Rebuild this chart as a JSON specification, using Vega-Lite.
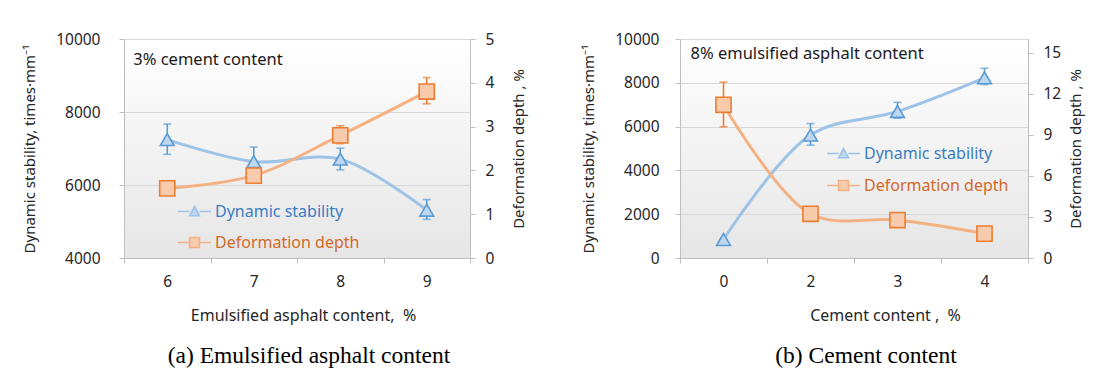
{
  "$schema": "https://vega.github.io/schema/vega-lite/v6.json",
  "padding": {"left": 22, "top": 31, "right": 4, "bottom": 2},
  "background": "white",
  "spacing": 53,
  "datasets": {
    "a": [
      {"x": "6", "ds": 7245, "ds_lo": 6840, "ds_hi": 7670, "dd": 1.59, "dd_lo": 1.56, "dd_hi": 1.62},
      {"x": "7", "ds": 6640, "ds_lo": 6350, "ds_hi": 7040, "dd": 1.88, "dd_lo": 1.85, "dd_hi": 1.91},
      {"x": "8", "ds": 6710, "ds_lo": 6415, "ds_hi": 7010, "dd": 2.8, "dd_lo": 2.61, "dd_hi": 3.02},
      {"x": "9", "ds": 5310, "ds_lo": 5060, "ds_hi": 5600, "dd": 3.8, "dd_lo": 3.52, "dd_hi": 4.12}
    ],
    "b": [
      {"x": "0", "ds": 846, "ds_lo": 830, "ds_hi": 860, "dd": 11.19, "dd_lo": 9.58, "dd_hi": 12.85},
      {"x": "2", "ds": 5615, "ds_lo": 5154, "ds_hi": 6138, "dd": 3.23, "dd_lo": 3.2, "dd_hi": 3.26},
      {"x": "3", "ds": 6692, "ds_lo": 6385, "ds_hi": 7108, "dd": 2.77, "dd_lo": 2.74, "dd_hi": 2.8},
      {"x": "4", "ds": 8230, "ds_lo": 7923, "ds_hi": 8662, "dd": 1.78, "dd_lo": 1.75, "dd_hi": 1.81}
    ],
    "notea": [{"note": "3% cement content"}],
    "noteb": [{"note": "8% emulsified asphalt content"}]
  },
  "hconcat": [
    {
      "width": 346,
      "height": 219,
      "title": {"text": "(a) Emulsified asphalt content", "orient": "bottom", "frame": "group", "dx": 12, "font": "Liberation Serif", "fontSize": 23.5, "fontWeight": "normal", "color": "#000000", "offset": 20},
      "data": {"name": "a"},
      "encoding": {
        "x": {"field": "x", "type": "ordinal", "scale": {"type": "band", "paddingInner": 0, "paddingOuter": 0},
              "axis": {"title": "Emulsified asphalt content,\u00a0 %", "titleX": 179, "labelAngle": 0, "tickBand": "extent", "labelPadding": 11, "titlePadding": 18, "titleFontSize": 16}}
      },
      "layer": [
        {
          "layer": [
            {
              "mark": {"type": "errorbar", "ticks": {"size": 8}, "color": "#5B9BD5", "thickness": 1.6},
              "encoding": {
                "y": {"field": "ds_lo", "type": "quantitative", "title": "Dynamic stability, times·mm⁻¹", "scale": {"domain": [4000, 10000]}},
                "y2": {"field": "ds_hi"}
              }
            },
            {
              "mark": {"type": "line", "interpolate": "catmull-rom", "strokeWidth": 3},
              "encoding": {
                "y": {"field": "ds", "type": "quantitative", "title": "Dynamic stability, times·mm⁻¹", "scale": {"domain": [4000, 10000]},
                      "axis": {"values": [4000, 6000, 8000, 10000], "format": "d", "grid": true, "labelPadding": 19, "titlePadding": 18}},
                "color": {"datum": "Dynamic stability", "type": "nominal", "scale": {"range": ["#9DC3E6"]},
                  "legend": {"orient": "none", "legendX": 53, "legendY": 155, "title": null,
                    "symbolType": "M-1,0H-0.3M0.3,0H1M-0.3,0.26L0,-0.3L0.3,0.26Z", "symbolSize": 1089,
                    "labelColor": "#3B7DC4", "labelFontSize": 16, "labelOffset": 3, "padding": 0,
                    "encode": {"symbols": {"update": {"fill": {"value": "#BDD7EE"}, "stroke": {"value": "#5B9BD5"}, "strokeWidth": {"value": 1.6}}}}}}
              }
            },
            {
              "mark": {"type": "point", "shape": "triangle-up", "filled": true, "fill": "#BDD7EE", "stroke": "#5B9BD5", "strokeWidth": 1.6, "size": 190, "opacity": 1},
              "encoding": {"y": {"field": "ds", "type": "quantitative", "title": "Dynamic stability, times·mm⁻¹"}}
            },
            {
              "data": {"name": "notea"},
              "mark": {"type": "text", "align": "left", "baseline": "middle", "dx": -34, "dy": 21, "fontSize": 16.5, "font": "Noto Sans", "color": "#1a1a1a"},
              "encoding": {"x": {"datum": "6", "type": "ordinal"}, "y": {"datum": 10000, "type": "quantitative"}, "text": {"field": "note"}}
            }
          ]
        },
        {
          "layer": [
            {
              "mark": {"type": "errorbar", "ticks": {"size": 8}, "color": "#ED7D31", "thickness": 1.6},
              "encoding": {
                "y": {"field": "dd_lo", "type": "quantitative", "title": "Deformation depth , %", "scale": {"domain": [0, 5]}},
                "y2": {"field": "dd_hi"}
              }
            },
            {
              "mark": {"type": "line", "interpolate": "catmull-rom", "strokeWidth": 3},
              "encoding": {
                "y": {"field": "dd", "type": "quantitative", "title": "Deformation depth , %", "scale": {"domain": [0, 5]},
                      "axis": {"orient": "right", "values": [0, 1, 2, 3, 4, 5], "grid": false, "titleAngle": 270, "titleBaseline": "top", "labelPadding": 10, "titlePadding": 18}},
                "color": {"datum": "Deformation depth", "type": "nominal", "scale": {"range": ["#F4B183"]},
                  "legend": {"orient": "none", "legendX": 53, "legendY": 186, "title": null,
                    "symbolType": "M-1,0H-0.3M0.3,0H1M-0.3,-0.3H0.3V0.3H-0.3Z", "symbolSize": 1089,
                    "labelColor": "#D4692A", "labelFontSize": 16, "labelOffset": 3, "padding": 0,
                    "encode": {"symbols": {"update": {"fill": {"value": "#F8CBAD"}, "stroke": {"value": "#ED7D31"}, "strokeWidth": {"value": 1.6}}}}}}
              }
            },
            {
              "mark": {"type": "point", "shape": "square", "filled": true, "fill": "#F8CBAD", "stroke": "#ED7D31", "strokeWidth": 1.6, "size": 230, "opacity": 1},
              "encoding": {"y": {"field": "dd", "type": "quantitative", "title": "Deformation depth , %"}}
            }
          ]
        }
      ],
      "resolve": {"scale": {"y": "independent", "color": "independent"}}
    },
    {
      "width": 348,
      "height": 219,
      "title": {"text": "(b) Cement content", "orient": "bottom", "frame": "group", "dx": 12, "font": "Liberation Serif", "fontSize": 23.5, "fontWeight": "normal", "color": "#000000", "offset": 20},
      "data": {"name": "b"},
      "encoding": {
        "x": {"field": "x", "type": "ordinal", "scale": {"type": "band", "paddingInner": 0, "paddingOuter": 0},
              "axis": {"title": "Cement content ,\u00a0 %", "titleX": 205, "labelAngle": 0, "tickBand": "extent", "labelPadding": 11, "titlePadding": 18, "titleFontSize": 16}}
      },
      "layer": [
        {
          "layer": [
            {
              "mark": {"type": "errorbar", "ticks": {"size": 8}, "color": "#5B9BD5", "thickness": 1.6},
              "encoding": {
                "y": {"field": "ds_lo", "type": "quantitative", "title": "Dynamic stability, times·mm⁻¹", "scale": {"domain": [0, 10000]}},
                "y2": {"field": "ds_hi"}
              }
            },
            {
              "mark": {"type": "line", "interpolate": "catmull-rom", "strokeWidth": 3},
              "encoding": {
                "y": {"field": "ds", "type": "quantitative", "title": "Dynamic stability, times·mm⁻¹", "scale": {"domain": [0, 10000]},
                      "axis": {"values": [0, 2000, 4000, 6000, 8000, 10000], "format": "d", "grid": true, "labelPadding": 16, "titlePadding": 18}},
                "color": {"datum": "Dynamic stability", "type": "nominal", "scale": {"range": ["#9DC3E6"]},
                  "legend": {"orient": "none", "legendX": 146, "legendY": 97, "title": null,
                    "symbolType": "M-1,0H-0.3M0.3,0H1M-0.3,0.26L0,-0.3L0.3,0.26Z", "symbolSize": 1089,
                    "labelColor": "#3B7DC4", "labelFontSize": 16, "labelOffset": 3, "padding": 0,
                    "encode": {"symbols": {"update": {"fill": {"value": "#BDD7EE"}, "stroke": {"value": "#5B9BD5"}, "strokeWidth": {"value": 1.6}}}}}}
              }
            },
            {
              "mark": {"type": "point", "shape": "triangle-up", "filled": true, "fill": "#BDD7EE", "stroke": "#5B9BD5", "strokeWidth": 1.6, "size": 190, "opacity": 1},
              "encoding": {"y": {"field": "ds", "type": "quantitative", "title": "Dynamic stability, times·mm⁻¹"}}
            },
            {
              "data": {"name": "noteb"},
              "mark": {"type": "text", "align": "left", "baseline": "middle", "dx": -33, "dy": 15, "fontSize": 16.5, "font": "Noto Sans", "color": "#1a1a1a"},
              "encoding": {"x": {"datum": "0", "type": "ordinal"}, "y": {"datum": 10000, "type": "quantitative"}, "text": {"field": "note"}}
            }
          ]
        },
        {
          "layer": [
            {
              "mark": {"type": "errorbar", "ticks": {"size": 8}, "color": "#ED7D31", "thickness": 1.6},
              "encoding": {
                "y": {"field": "dd_lo", "type": "quantitative", "title": "Deformation depth , %", "scale": {"domain": [0, 15]}},
                "y2": {"field": "dd_hi"}
              }
            },
            {
              "mark": {"type": "line", "interpolate": "catmull-rom", "strokeWidth": 3},
              "encoding": {
                "y": {"field": "dd", "type": "quantitative", "title": "Deformation depth , %", "scale": {"domain": [0, 15]},
                      "axis": {"orient": "right", "values": [0, 3, 6, 9, 12, 15], "grid": false, "titleAngle": 270, "titleBaseline": "top", "labelPadding": 10, "titlePadding": 8}},
                "color": {"datum": "Deformation depth", "type": "nominal", "scale": {"range": ["#F4B183"]},
                  "legend": {"orient": "none", "legendX": 146, "legendY": 129, "title": null,
                    "symbolType": "M-1,0H-0.3M0.3,0H1M-0.3,-0.3H0.3V0.3H-0.3Z", "symbolSize": 1089,
                    "labelColor": "#D4692A", "labelFontSize": 16, "labelOffset": 3, "padding": 0,
                    "encode": {"symbols": {"update": {"fill": {"value": "#F8CBAD"}, "stroke": {"value": "#ED7D31"}, "strokeWidth": {"value": 1.6}}}}}}
              }
            },
            {
              "mark": {"type": "point", "shape": "square", "filled": true, "fill": "#F8CBAD", "stroke": "#ED7D31", "strokeWidth": 1.6, "size": 230, "opacity": 1},
              "encoding": {"y": {"field": "dd", "type": "quantitative", "title": "Deformation depth , %"}}
            }
          ]
        }
      ],
      "resolve": {"scale": {"y": "independent", "color": "independent"}}
    }
  ],
  "config": {
    "font": "Noto Sans",
    "view": {
      "fill": {"gradient": "linear", "x1": 0, "y1": 0, "x2": 0, "y2": 1, "stops": [{"offset": 0, "color": "#ffffff"}, {"offset": 1, "color": "#e6e6e6"}]},
      "stroke": "#d9d9d9"
    },
    "axis": {
      "labelFont": "Noto Sans", "labelFontSize": 15.5, "labelColor": "#262626",
      "titleFont": "Noto Sans", "titleFontSize": 15, "titleFontWeight": "normal", "titleColor": "#262626",
      "domainColor": "#bfbfbf", "tickColor": "#bfbfbf", "tickSize": 5, "gridColor": "#d9d9d9"
    },
    "legend": {"labelFont": "Noto Sans"}
  }
}
